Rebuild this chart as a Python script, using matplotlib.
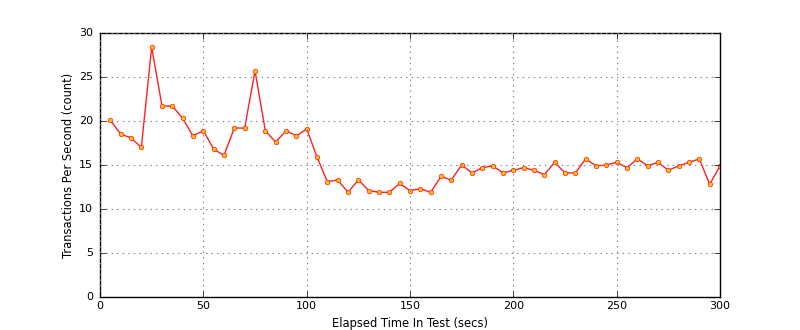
import matplotlib
matplotlib.use('Agg')
from matplotlib import pyplot as plt

# Время теста (с) и число транзакций в секунду
elapsed = list(range(5, 305, 5))
tps = [20.1, 18.5, 18.1, 17.0, 28.4, 21.7, 21.7, 20.3, 18.3, 18.9,
       16.8, 16.1, 19.2, 19.2, 25.7, 18.9, 17.6, 18.9, 18.3, 19.1,
       15.9, 13.1, 13.3, 11.9, 13.3, 12.1, 11.9, 11.9, 12.9, 12.1,
       12.3, 11.9, 13.7, 13.3, 15.0, 14.1, 14.7, 14.9, 14.1, 14.4,
       14.7, 14.4, 13.9, 15.3, 14.1, 14.1, 15.7, 14.9, 15.0, 15.3,
       14.7, 15.7, 14.9, 15.3, 14.4, 14.9, 15.3, 15.7, 12.8, 14.9]

plt.style.use('classic')
fig = plt.figure(figsize=(8, 3.3), dpi=100)
fig.patch.set_facecolor('white')
ax = fig.add_subplot(111)
fig.subplots_adjust(left=0.125, right=0.9, bottom=0.1, top=0.9)

ax.plot(elapsed, tps, color='#ff2020', linewidth=1,
        marker='o', markersize=3.2, markerfacecolor='#ffc800',
        markeredgecolor='#ff3030', markeredgewidth=0.6)

ax.set_xlim(0, 300)
ax.set_ylim(0, 30)
ax.set_xticks(range(0, 301, 50))
ax.set_yticks(range(0, 31, 5))
ax.grid(True, color='#808080', linestyle=':', linewidth=0.8)
ax.tick_params(labelsize=8)
ax.tick_params(axis='x', pad=3)
ax.tick_params(axis='y', pad=5)
ax.set_xlabel('Elapsed Time In Test (secs)', fontsize=8.3, labelpad=4)
ax.set_ylabel('Transactions Per Second (count)', fontsize=8.3, labelpad=3)

plt.savefig('out.png', dpi=100, facecolor='white')
